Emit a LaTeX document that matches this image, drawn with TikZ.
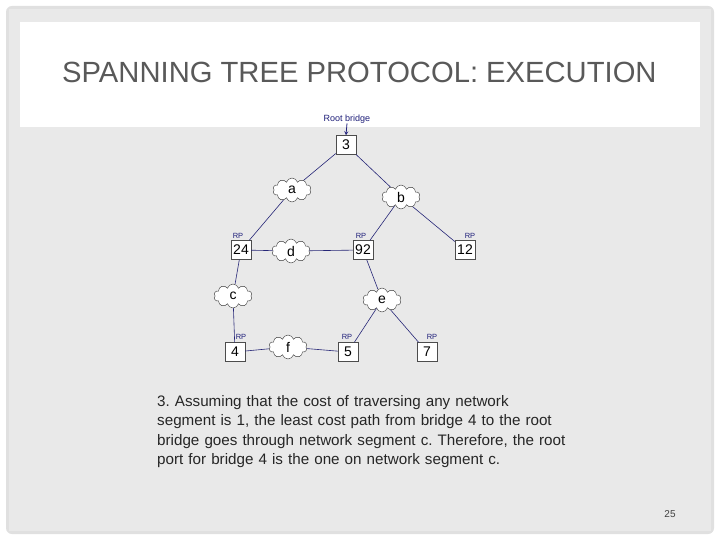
\documentclass[tikz,border=0pt]{standalone}
\usepackage{fontspec}
\setmainfont{Liberation Sans}
\usetikzlibrary{shapes.symbols}
\definecolor{dk}{HTML}{1F1F7A}
\frenchspacing
\begin{document}
\begin{tikzpicture}[x=1pt,y=-1pt,
 br/.style={draw=black!70,fill=white,inner sep=1.5pt,minimum width=20pt,minimum height=19pt,font=\fontsize{14}{14}\selectfont},
 cl/.style={cloud,cloud puffs=10,draw=black!80,fill=white,minimum width=38pt,minimum height=24pt,inner sep=0pt,font=\fontsize{14}{14}\selectfont},
 rp/.style={text=dk,font=\fontsize{7.5}{7.5}\selectfont,inner sep=0pt},
 ln/.style={draw=black!55!blue!70!gray,line width=0.6pt}]
\useasboundingbox (0,0) rectangle (720,540);
\fill[white] (0,0) rectangle (720,540);
\fill[rounded corners=6pt,black!12] (6,6) rectangle (714,534);
\fill[black!5!white!92!gray] (9,9) rectangle (711,531);
\fill[white] (20,22) rectangle (700,127);
\node[text=black!65,font=\fontsize{29.2}{29.2}\selectfont,anchor=base west,inner sep=0pt] (title) at (62,83) {SPANNING TREE PROTOCOL: EXECUTION};
\node[rp,font=\fontsize{9}{9}\selectfont] (rl) at (347,119) {Root bridge};
\node[br] (n3) at (346,145) {3};
\draw[->,>=stealth,dk,thick] (rl.south) -- (n3.north);
\node[cl] (a) at (292,190) {a};
\node[cl] (b) at (401,197) {b};
\node[br] (n24) at (241,250) {24};
\node[cl] (d) at (291,251) {d};
\node[br] (n92) at (363,250) {92};
\node[br] (n12) at (465,250) {12};
\node[cl] (c) at (233,296) {c};
\node[cl] (e) at (382,300) {e};
\node[br] (n4) at (235,352) {4};
\node[cl] (f) at (288,347) {f};
\node[br] (n5) at (348,352) {5};
\node[br] (n7) at (427,352) {7};
\node[rp] (r1) at (238,236) {RP};
\node[rp] (r2) at (361,236) {RP};
\node[rp] (r3) at (470,236) {RP};
\node[rp] (r4) at (241,337) {RP};
\node[rp] (r5) at (347,337) {RP};
\node[rp] (r6) at (432,337) {RP};
\draw[ln] (n3) -- (a) (n3) -- (b) (a) -- (n24) (b) -- (n92) (b) -- (n12)
 (n24) -- (d) (d) -- (n92) (n24) -- (c) (c) -- (n4) (n92) -- (e) (e) -- (n5) (e) -- (n7)
 (n4) -- (f) (f) -- (n5);
\node[anchor=north west,align=left,text width=460pt,font=\fontsize{15.2}{19.5}\selectfont,text=black!85,inner sep=0pt] (txt) at (157,395) {3. Assuming that the cost of traversing any network\\ segment is 1, the least cost path from bridge 4 to the root\\ bridge goes through network segment c. Therefore, the root\\ port for bridge 4 is the one on network segment c.};
\node[font=\fontsize{10}{10}\selectfont,text=black!75] (pg) at (670,514) {25};
\end{tikzpicture}
\end{document}
